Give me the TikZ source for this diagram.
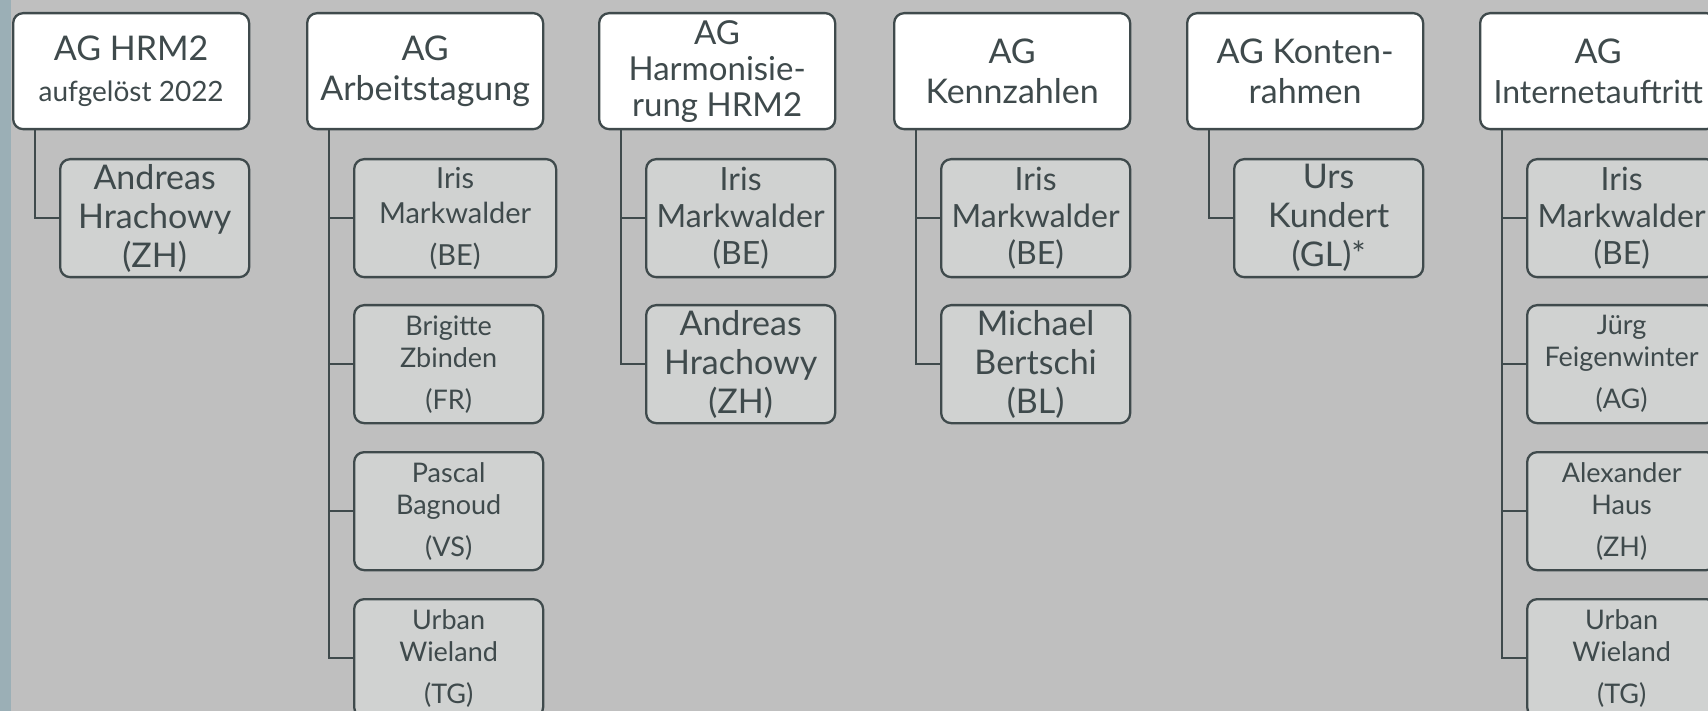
\documentclass[tikz,border=0pt]{standalone}
\usepackage{fontspec}
\setmainfont{Lato}
\definecolor{bg}{HTML}{BFBFBF}
\definecolor{strip}{HTML}{9BAFB6}
\definecolor{ink}{HTML}{3F4A4C}
\definecolor{kid}{HTML}{D0D2D1}
\tikzset{
  head/.style={draw=ink, line width=2.3pt, fill=white, rounded corners=10pt, anchor=north west,
    minimum width=236pt, minimum height=116pt, inner sep=0pt, align=center, text=ink},
  kidbox/.style={draw=ink, line width=2.3pt, fill=kid, rounded corners=10pt, anchor=north west,
    minimum width=189pt, minimum height=118pt, inner sep=0pt, align=center, text=ink},
  conn/.style={draw=ink, line width=2.3pt},
}
\newcommand{\fs}[2]{\fontsize{#1}{#2}\selectfont}
\begin{document}
\begin{tikzpicture}[x=1pt,y=-1pt]
\useasboundingbox (0,0) rectangle (1708,711);
\clip (0,0) rectangle (1708,711);
\fill[bg] (0,0) rectangle (1708,711);
\fill[strip] (0,0) rectangle (11,711);
% heads
\node[head, font=\fs{34}{40}] (t1) at (12,12) {AG HRM2\\[1pt]{\fs{28}{32}aufgelöst 2022}};
\node[head, font=\fs{34}{40}] (t2) at (306,12) {AG\\Arbeitstagung};
\node[head, font=\fs{33}{36}] (t3) at (598,12) {AG\\Harmonisie-\\rung HRM2};
\node[head, font=\fs{34}{40}] (t4) at (893,12) {AG\\Kennzahlen};
\node[head, font=\fs{34}{40}] (t5) at (1186,12) {AG Konten-\\rahmen};
\node[head, font=\fs{32}{40}] (t6) at (1479,12) {{\fs{34}{40}AG}\\Internetauftritt};
% group 1
\node[kidbox, font=\fs{34}{39}] (c1a) at (59,158) {Andreas\\Hrachowy\\(ZH)};
% group 2
\node[kidbox, minimum width=202pt, font=\fs{29}{35}] (c2a) at (353,158) {Iris\\Markwalder\\[7pt](BE)};
\node[kidbox, font=\fs{27}{32}] (c2b) at (353,304) {Brigitte\\Zbinden\\[10pt](FR)};
\node[kidbox, font=\fs{27}{32}] (c2c) at (353,451) {Pascal\\Bagnoud\\[10pt](VS)};
\node[kidbox, font=\fs{27}{32}] (c2d) at (353,598) {Urban\\Wieland\\[10pt](TG)};
% group 3
\node[kidbox, font=\fs{32}{37}] (c3a) at (645,158) {Iris\\Markwalder\\(BE)};
\node[kidbox, font=\fs{34}{39}] (c3b) at (645,304) {Andreas\\Hrachowy\\(ZH)};
% group 4
\node[kidbox, font=\fs{32}{37}] (c4a) at (940,158) {Iris\\Markwalder\\(BE)};
\node[kidbox, font=\fs{34}{39}] (c4b) at (940,304) {Michael\\Bertschi\\(BL)};
% group 5
\node[kidbox, font=\fs{34}{39}] (c5a) at (1233,158) {Urs\\Kundert\\(GL)*};
% group 6
\node[kidbox, font=\fs{32}{37}] (c6a) at (1526,158) {Iris\\Markwalder\\(BE)};
\node[kidbox, font=\fs{27}{32}] (c6b) at (1526,304) {Jürg\\Feigenwinter\\[10pt](AG)};
\node[kidbox, font=\fs{27}{32}] (c6c) at (1526,451) {Alexander\\Haus\\[10pt](ZH)};
\node[kidbox, font=\fs{27}{32}] (c6d) at (1526,598) {Urban\\Wieland\\[10pt](TG)};
% connectors
\draw[conn] ([xshift=23pt]t1.south west) |- (c1a.west);
\foreach \c in {c2a,c2b,c2c,c2d} \draw[conn] ([xshift=23pt]t2.south west) |- (\c.west);
\foreach \c in {c3a,c3b} \draw[conn] ([xshift=23pt]t3.south west) |- (\c.west);
\foreach \c in {c4a,c4b} \draw[conn] ([xshift=23pt]t4.south west) |- (\c.west);
\draw[conn] ([xshift=23pt]t5.south west) |- (c5a.west);
\foreach \c in {c6a,c6b,c6c,c6d} \draw[conn] ([xshift=23pt]t6.south west) |- (\c.west);
\end{tikzpicture}
\end{document}
